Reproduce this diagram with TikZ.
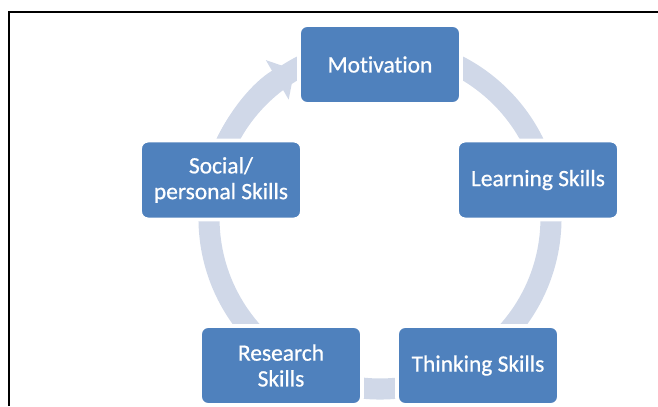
\documentclass[tikz,border=0pt]{standalone}
\usepackage{fontspec}
\setmainfont[Ligatures=NoCommon]{Carlito}
\newfontfamily\skillfont[Ligatures=NoCommon,FakeBold=0.7]{Carlito}
\usetikzlibrary{arrows.meta}
\definecolor{boxblue}{HTML}{4F81BD}
\definecolor{cyclegray}{HTML}{D0D8E8}
\tikzset{
  skill/.style={rectangle, rounded corners=0.24cm, fill=boxblue, draw=white, line width=3.4pt,
    minimum width=4.86cm, minimum height=2.37cm, text=white, align=center,
    font=\skillfont\fontsize{20}{22}\selectfont},
  band/.style={draw=cyclegray, line width=18pt}
}
\begin{document}
\begin{tikzpicture}[x=0.03cm,y=0.03cm]
\useasboundingbox (0,0) rectangle (658,406);
% frame
\draw[line width=2pt] (9,0) -- (9,394) -- (658,394);

% cycle
\coordinate (hub) at (380,188);
\draw[band] (hub) circle[radius=171];
\draw[band,-{Triangle[length=17pt,width=38pt]}] ([shift={(160:171)}]hub) arc[start angle=160,end angle=120,radius=171];

\node[skill] (mot) at (380,341.5) {Motivation};
\node[skill] (learn) at (538,226) {Learning Skills};
\node[skill] (think) at (478,40.5) {Thinking Skills};
\node[skill] (res) at (281,40.5) {Research\\Skills};
\node[skill] (soc) at (221,226) {Social/\\personal Skills};
\end{tikzpicture}
\end{document}
